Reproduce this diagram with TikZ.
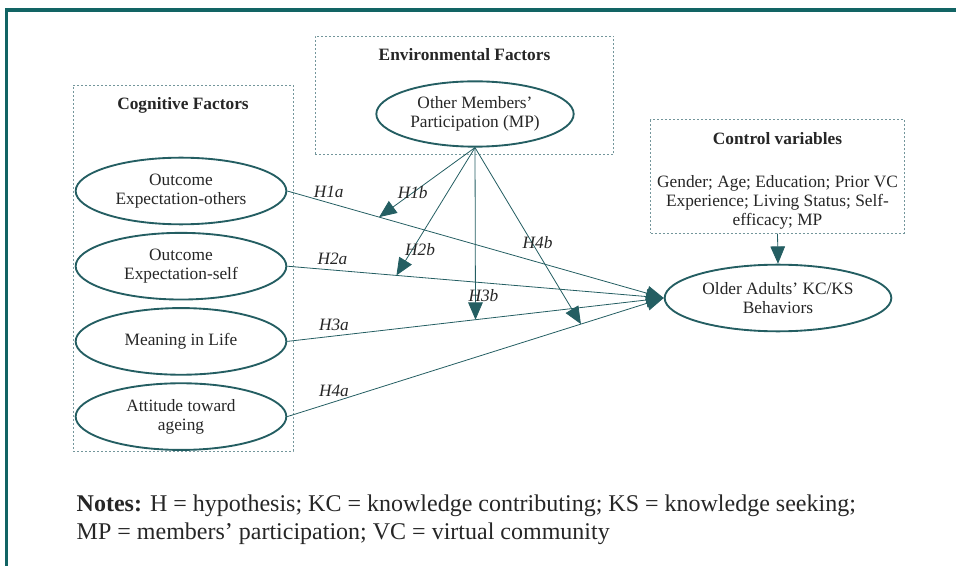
\documentclass[tikz,border=0pt]{standalone}
\usepackage{fontspec}
\setmainfont{Liberation Serif}
\usetikzlibrary{shapes,arrows.meta,positioning,calc}
\definecolor{frameTeal}{RGB}{18,100,100}
\definecolor{pathTeal}{RGB}{36,94,98}
\definecolor{boxGrey}{RGB}{115,150,155}

\begin{document}
\begin{tikzpicture}[x=0.75pt, y=-0.75pt,
            font=\fontsize{13}{14.5}\selectfont,
            factor/.style={ellipse, draw=pathTeal, line width=1.4pt, text=black!85, align=center, inner xsep=-14pt, inner ysep=0pt, minimum width=158pt, minimum height=50pt},
            group/.style={rectangle, draw=boxGrey, dash pattern=on 1.6pt off 1.4pt, line width=0.6pt},
            title/.style={font=\fontsize{13}{14.5}\selectfont\bfseries, text=black!85},
            hyp/.style={font=\fontsize{13}{14.5}\selectfont\itshape, text=black!85},
            path/.style={-{Triangle[length=13pt, width=11pt]}, draw=pathTeal, line width=0.6pt}
        ]
            \useasboundingbox (0,0) rectangle (956,566);
            \draw[frameTeal, line width=2.6pt] (6.5,566) -- (6.5,10) -- (956,10);

            % groups
            \node[group, minimum width=165pt, minimum height=274.5pt] (cog) at (183,268) {};
            \node[title, below=6pt of cog.north] (cogtitle) {Cognitive Factors};
            \node[group, minimum width=224pt, minimum height=89pt] (env) at (464.5,95.5) {};
            \node[title, below=6pt of env.north] (envtitle) {Environmental Factors};
            \node[group, minimum width=190pt, minimum height=85pt] (ctrl) at (777.5,176.5) {};
            \node[title, below=6pt of ctrl.north] (ctrltitle) {Control variables};
            \node[text=black!85, align=center, below=16pt of ctrltitle] (ctrlvars) {Gender; Age; Education; Prior VC\\Experience; Living Status; Self-\\efficacy; MP};

            % constructs
            \node[factor] (oeo) at (181,191) {Outcome\\Expectation-others};
            \node[factor, below=5pt of oeo] (oes) {Outcome\\Expectation-self};
            \node[factor, below=5pt of oes] (mil) {\raisebox{3pt}{Meaning in Life}};
            \node[factor, below=5pt of mil] (ata) {Attitude toward\\ageing};
            \node[factor, minimum width=148pt, minimum height=49pt] (mp) at (475,114) {Other Members'\\Participation (MP)};
            \node[factor, minimum width=170pt] (kc) at (778,298) {Older Adults' KC/KS\\Behaviors};

            % direct paths
            \draw[path] (oeo.east) -- node[hyp, pos=0.11, above] {H1a} (kc.west);
            \draw[path] (oes.east) -- node[hyp, pos=0.12, above] {H2a} (kc.west);
            \draw[path] (mil.east) -- node[hyp, pos=0.124, above] {H3a} (kc.west);
            \draw[path] (ata.east) -- node[hyp, pos=0.124, above] {H4a} (kc.west);
            \draw[path] (ctrl.south) -- (kc.north);

            % moderation
            \coordinate (m1) at ($(oeo.east)!0.244!(kc.west)$);
            \coordinate (m2) at ($(oes.east)!0.29!(kc.west)$);
            \coordinate (m3) at ($(mil.east)!0.5!(kc.west)$);
            \coordinate (m4) at ($(ata.east)!0.78!(kc.west)$);
            \draw[path] (mp.south) -- node[hyp, pos=0.65] {H1b} (m1);
            \draw[path] (mp.south) -- node[hyp, pos=0.8, xshift=6pt] {H2b} (m2);
            \draw[path] (mp.south) -- node[hyp, pos=0.86, xshift=6pt] {H3b} (m3);
            \draw[path] (mp.south) -- node[hyp, pos=0.54, xshift=4pt] {H4b} (m4);

            \node[anchor=west, align=left, text=black!85, font=\fontsize{18}{21}\selectfont] (notes) at (72,520) {\textbf{Notes:} H = hypothesis; KC = knowledge contributing; KS = knowledge seeking;\\MP = members' participation; VC = virtual community};
        \end{tikzpicture}
\end{document}
